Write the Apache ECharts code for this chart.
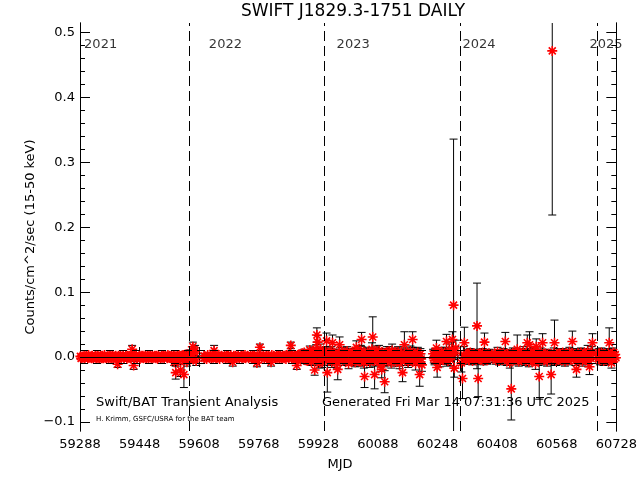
<!DOCTYPE html>
<html>
<head>
<meta charset="utf-8">
<script src="https://cdn.jsdelivr.net/npm/echarts@6/dist/echarts.min.js"></script>
<style>html,body{margin:0;padding:0;background:#fff}#c{width:640px;height:480px}</style>
</head>
<body>
<div id="c"></div>
<script>
// [MJD, rate (counts/cm^2/sec), error]
const points2021 = [
[59289,.001,.003],[59291,-.002,.003],[59294,.001,.003],[59296,-.001,.003],[59299,.002,.003],
[59301,-.003,.003],[59304,.000,.003],[59306,.002,.003],[59309,-.002,.003],[59311,.003,.003],
[59314,-.001,.003],[59316,.001,.003],[59319,-.002,.003],[59321,.002,.003],[59324,-.002,.003],
[59326,.000,.003],[59329,.003,.003],[59331,-.003,.003],[59334,.002,.003],[59336,-.001,.003],
[59339,.001,.003],[59341,-.003,.003],[59344,.002,.003],[59346,-.002,.003],[59349,.002,.003],
[59351,-.002,.003],[59354,.003,.003],[59356,.000,.003],[59359,-.002,.003],[59361,.001,.003],
[59364,-.003,.003],[59366,.002,.003],[59369,-.001,.003],[59371,.002,.003],[59374,-.002,.003],
[59376,.003,.003],[59379,-.002,.003],[59381,.001,.003],[59384,.002,.003],[59386,-.003,.003],
[59389,-.011,.005],[59391,.002,.003],[59394,-.001,.003],[59396,.002,.003],[59399,-.002,.003],
[59401,.001,.003],[59404,.003,.003],[59406,-.002,.003],[59409,.000,.003],[59411,.002,.003],
[59414,-.003,.003],[59416,.002,.003],[59419,-.001,.003],[59421,.001,.003],[59424,-.002,.003],
[59426,.003,.003],[59428,.012,.006],[59430,.002,.003],[59432,-.013,.006],[59434,-.002,.003],
[59437,.001,.003],[59439,.002,.003],[59442,-.002,.003],[59444,.000,.003],[59447,.003,.003],
[59449,-.003,.003],[59452,.002,.003],[59454,-.001,.003],[59457,.002,.003],[59459,-.002,.003],
[59462,.001,.003],[59464,.003,.003],[59467,-.002,.003],[59469,.002,.003],[59472,-.003,.003],
[59474,.000,.003],[59477,.002,.003],[59479,-.001,.003],[59482,.003,.003],[59484,-.002,.003],
[59487,.001,.003],[59489,.002,.003],[59492,-.002,.003],[59494,.002,.003],[59497,-.003,.003],
[59499,.003,.003],[59502,.000,.003],[59504,-.002,.003],[59507,.002,.003],[59509,-.001,.003],
[59512,.002,.003],[59514,-.002,.003],[59517,.003,.003],[59519,.001,.003],[59522,-.002,.003],
[59524,.003,.003],[59527,-.001,.003],[59529,.002,.003],[59532,-.002,.003],[59534,.002,.003],
[59537,-.003,.004],[59539,.002,.004],[59541,-.008,.005],[59543,.001,.004],[59545,-.024,.010],
[59547,-.003,.004],[59550,.003,.004],[59552,-.006,.005],[59554,.003,.004],[59556,-.002,.004],
[59558,-.020,.010],[59560,.002,.004],[59563,-.005,.005],[59565,.003,.004],[59567,-.027,.020],
[59569,-.002,.005],[59571,.004,.005],[59573,-.001,.004],[59575,-.008,.006],[59577,.003,.005],
[59580,.001,.005],[59582,-.004,.005],[59584,.006,.005],[59586,-.002,.005],[59588,.004,.005],
[59591,.016,.007],[59593,-.003,.006],[59595,.008,.006],[59597,.010,.008],[59600,-.006,.007]
];
const points2022 = [
[59621,.002,.003],[59623,-.002,.003],[59626,.001,.003],[59628,-.003,.003],[59631,.003,.003],
[59633,.000,.003],[59636,-.002,.003],[59638,.002,.003],[59641,-.002,.003],[59643,.002,.003],
[59646,-.001,.003],[59648,.010,.008],[59651,.001,.003],[59653,-.002,.003],[59656,.002,.003],
[59658,-.001,.003],[59661,.003,.003],[59663,-.003,.003],[59666,.001,.003],[59668,.002,.003],
[59671,-.002,.003],[59673,.000,.003],[59676,.003,.003],[59678,-.002,.003],[59681,.002,.003],
[59683,-.001,.003],[59686,.002,.003],[59688,-.003,.003],[59691,.001,.003],[59693,.003,.003],
[59696,-.002,.003],[59698,-.008,.006],[59701,.002,.003],[59703,-.001,.003],[59706,.002,.003],
[59708,-.002,.003],[59711,.001,.003],[59713,.003,.003],[59716,-.002,.003],[59718,.000,.003],
[59721,.002,.003],[59723,-.003,.003],[59726,.002,.003],[59728,-.001,.003],[59731,.003,.003],
[59733,-.002,.003],[59736,.001,.003],[59738,.002,.003],[59741,-.002,.003],[59743,.000,.003],
[59746,.003,.003],[59748,-.003,.003],[59751,.002,.003],[59753,-.001,.003],[59756,.002,.003],
[59758,-.002,.003],[59761,.001,.003],[59763,-.009,.006],[59766,.002,.003],[59768,-.001,.003],
[59771,.015,.005],[59773,.002,.003],[59776,-.002,.003],[59778,.001,.003],[59781,.003,.003],
[59783,-.002,.003],[59786,.000,.003],[59788,.002,.003],[59791,-.003,.003],[59793,.002,.003],
[59796,-.001,.003],[59798,.001,.003],[59801,-.008,.006],[59803,.003,.003],[59806,-.002,.003],
[59808,.002,.003],[59811,-.002,.003],[59813,.000,.003],[59816,.003,.003],[59818,-.001,.003],
[59821,.002,.003],[59823,-.003,.003],[59826,.003,.003],[59828,-.002,.003],[59831,.001,.003],
[59833,.002,.003],[59836,-.002,.003],[59838,.002,.003],[59841,-.003,.003],[59843,.003,.003],
[59846,.000,.003],[59848,-.002,.003],[59850,.005,.004],[59852,.001,.003],[59854,.018,.005],
[59856,-.002,.003],[59859,.002,.003],[59861,-.001,.003],[59864,.003,.004],[59866,-.003,.004],
[59868,.002,.004],[59870,-.013,.006],[59873,.003,.004],[59875,.004,.004],[59878,-.002,.004],
[59880,-.004,.004],[59883,.002,.004],[59885,.006,.004],[59888,-.001,.004],[59890,.007,.005],
[59893,-.005,.005],[59895,.003,.005],[59898,-.006,.005],[59900,.004,.005],[59903,-.003,.005],
[59905,.011,.006],[59907,-.002,.005],[59909,-.007,.006],[59911,.006,.006],[59913,.009,.006],
[59916,-.004,.006],[59918,-.020,.008],[59920,.003,.006],[59922,.012,.007],[59924,.034,.011],
[59926,.023,.010],[59928,-.006,.007],[59930,.004,.007],[59932,-.009,.008],[59934,.012,.008],
[59936,.002,.007],[59938,-.008,.008],[59940,.007,.008],[59942,.003,.008],[59944,-.005,.008]
];
const points2023 = [
[59946,.003,.008],[59948,.008,.008],[59950,.025,.012],[59952,-.024,.030],[59954,.002,.007],
[59956,-.006,.007],[59958,.007,.007],[59960,-.003,.007],[59962,.009,.007],[59964,-.008,.008],
[59966,.022,.012],[59968,.001,.007],[59970,-.005,.007],[59972,.006,.006],[59974,-.002,.007],
[59976,.004,.006],[59978,-.009,.008],[59980,-.019,.016],[59982,.005,.007],[59985,.019,.012],
[59987,-.004,.006],[59989,.002,.006],[59991,.008,.007],[59993,-.006,.007],[59995,.003,.006],
[59997,-.001,.006],[59999,.007,.007],[60001,-.004,.007],[60003,.005,.006],[60005,.009,.007],
[60007,-.002,.007],[60009,-.010,.008],[60011,.004,.006],[60013,.001,.006],[60015,-.006,.007],
[60017,.006,.007],[60019,-.003,.006],[60021,.007,.006],[60023,-.005,.007],[60025,.002,.007],
[60027,-.008,.007],[60030,.015,.010],[60032,.003,.007],[60034,-.002,.007],[60036,.006,.007],
[60038,-.007,.007],[60040,.004,.007],[60042,.010,.008],[60044,.027,.011],[60046,-.004,.007],
[60048,.003,.007],[60050,-.009,.008],[60052,-.030,.017],[60054,.006,.007],[60056,.001,.007],
[60058,-.005,.008],[60060,.008,.007],[60062,-.002,.008],[60064,.005,.007],[60066,-.008,.008],
[60068,.003,.007],[60070,-.004,.008],[60072,.012,.010],[60074,.031,.031],[60076,.002,.008],
[60078,-.006,.008],[60079,-.027,.022],[60081,.006,.008],[60083,-.002,.007],[60085,.009,.008],
[60087,-.006,.007],[60089,.004,.007],[60091,.010,.008],[60093,-.003,.008],[60095,-.012,.010],
[60098,-.019,.013],[60100,.005,.008],[60102,.001,.008],[60104,-.007,.008],[60106,-.038,.017],
[60108,.006,.007],[60110,-.002,.007],[60112,.008,.008],[60114,-.005,.008],[60116,.003,.007],
[60118,.009,.007],[60120,-.004,.008],[60122,.002,.008],[60124,-.009,.008],[60126,.010,.010],
[60128,.001,.007],[60130,-.007,.007],[60132,.005,.008],[60134,-.001,.008],[60136,.007,.007],
[60138,-.004,.007],[60140,.003,.008],[60142,.008,.008],[60144,-.006,.008],[60146,-.010,.008],
[60148,.004,.007],[60150,-.002,.007],[60152,.006,.008],[60154,-.024,.014],[60156,.002,.008],
[60159,.019,.020],[60161,-.005,.008],[60163,.004,.008],[60165,-.003,.007],[60167,.007,.007],
[60169,-.008,.008],[60171,.002,.008],[60173,-.004,.007],[60175,.009,.008],[60177,.001,.007],
[60179,-.006,.007],[60181,.027,.012],[60183,.003,.008],[60185,-.002,.008],[60187,.006,.008],
[60189,-.010,.010],[60191,.004,.007],[60193,-.001,.007],[60195,.007,.008],[60197,-.005,.008],
[60200,-.027,.018],[60202,.005,.008],[60204,-.003,.008],[60206,-.012,.010],
[60236,.005,.007],[60238,-.002,.007],[60240,-.005,.007],[60242,.006,.007],[60245,.014,.012],
[60247,-.016,.015],[60249,.002,.007],[60251,.005,.007],[60253,-.004,.007],[60255,-.007,.008],
[60257,.003,.007],[60259,.008,.007],[60261,-.001,.007],[60263,-.004,.007],[60265,.004,.008],
[60267,.007,.008],[60269,-.003,.008],[60272,.024,.011],[60274,.001,.008],[60276,-.006,.008],
[60278,.005,.008],[60280,.010,.010],[60282,-.004,.009],[60284,.003,.009],[60286,.012,.011],
[60288,.027,.012],[60291,.080,.256],[60293,-.017,.014],[60295,.006,.010],[60297,.014,.012]
];
const points2024 = [
[60312,-.009,.014],[60315,-.033,.031],[60318,.004,.012],[60320,.022,.024],[60323,-.004,.007],
[60326,.004,.006],[60328,-.002,.006],[60330,.006,.006],[60332,-.005,.006],[60334,.002,.006],
[60336,.007,.006],[60338,-.003,.006],[60340,.004,.006],[60342,-.006,.006],[60344,.001,.006],
[60346,.006,.006],[60348,-.002,.006],[60350,.003,.006],[60352,-.005,.006],[60354,.048,.066],
[60357,-.033,.028],[60359,.005,.006],[60361,-.001,.006],[60363,.006,.006],[60365,-.004,.006],
[60367,.002,.006],[60369,.007,.006],[60371,-.006,.006],[60374,.023,.014],[60376,.001,.006],
[60378,-.003,.006],[60380,.005,.006],[60382,-.005,.006],[60384,.003,.006],[60386,.006,.006],
[60388,-.002,.006],[60390,.002,.006],
[60401,.005,.006],[60403,-.002,.006],[60405,-.005,.006],[60407,.003,.006],[60409,.008,.007],
[60411,-.003,.006],[60413,-.006,.006],[60415,.002,.006],[60417,.005,.006],[60419,-.001,.006],
[60421,-.004,.007],[60423,.004,.006],[60425,.007,.006],[60428,-.002,.007],[60430,.024,.014],
[60432,.001,.007],[60434,-.006,.007],[60436,.005,.006],[60438,.002,.006],[60440,-.003,.007],
[60442,-.009,.008],[60444,.004,.007],[60446,-.049,.048],[60448,.003,.007],[60450,.007,.007],
[60452,-.004,.006],[60454,-.001,.006],[60456,.006,.007],[60458,.002,.007],[60460,-.005,.007],
[60462,.012,.022],[60464,.001,.007],[60466,-.007,.007],[60468,.004,.006],[60470,-.002,.006],
[60472,.006,.007],[60474,-.004,.007],[60476,.002,.007],[60478,.009,.007],[60480,-.003,.006],
[60482,.001,.006],[60484,-.006,.007],[60486,.005,.007],[60489,.022,.012],[60491,-.002,.007],
[60493,-.008,.007],[60495,.019,.020],[60497,.004,.007],[60499,-.001,.007],[60501,.006,.007],
[60503,-.005,.007],[60505,.002,.007],[60507,.008,.007],[60509,-.003,.008],[60511,-.010,.009],
[60513,.016,.012],[60515,.001,.007],[60517,.004,.007],[60519,-.006,.007],[60521,-.030,.035],
[60523,.003,.007],[60525,.007,.007],[60527,-.002,.007],[60530,.022,.014],[60532,.001,.007],
[60534,-.005,.007],[60536,.004,.006],[60538,.006,.006],[60540,-.003,.007],[60542,-.007,.007],
[60544,.002,.006],[60546,.005,.006],[60548,-.001,.007],[60550,-.004,.007],[60553,-.027,.030],
[60556,.472,.253],[60558,.003,.007],[60560,.007,.007],[60562,.022,.035],[60564,-.002,.007],
[60566,-.006,.007],[60568,.004,.006],[60570,.001,.006],[60572,-.004,.007],[60574,.006,.007],
[60576,-.002,.007],[60578,.005,.006],[60580,-.005,.007],[60582,.002,.007],[60584,.007,.006],
[60586,-.003,.006],[60588,.004,.007],[60590,-.007,.007],[60592,.001,.006],[60594,.005,.006],
[60596,-.002,.007],[60598,-.005,.007],[60600,.003,.007],[60602,.008,.007],[60604,-.001,.006],
[60606,-.004,.006],[60608,.006,.007],[60610,.024,.016],[60612,.002,.007],[60614,-.003,.007],
[60616,.005,.007],[60618,-.006,.007],[60621,-.019,.012],[60623,.003,.007],[60625,.006,.007],
[60627,-.002,.006],[60629,-.005,.006],[60631,.004,.007],[60633,.007,.007],[60635,-.003,.007],
[60637,-.007,.007],[60639,.002,.006],[60641,.005,.006],[60643,-.001,.007],[60645,.006,.007],
[60647,-.004,.008],[60649,.002,.008],[60651,.009,.009],[60653,-.006,.009],[60656,-.015,.012],
[60658,.004,.008],[60660,-.002,.008],[60662,.007,.009],[60664,.022,.014]
];
const points2025 = [
[60678,.004,.007],[60680,-.003,.007],[60682,.006,.007],[60684,-.005,.007],[60686,.002,.006],
[60688,.007,.007],[60690,-.002,.006],[60692,.004,.007],[60694,-.006,.007],[60696,.001,.006],
[60698,.005,.007],[60700,-.004,.007],[60702,.003,.006],[60704,-.001,.007],[60706,.006,.007],
[60709,.022,.023],[60711,.002,.007],[60713,-.004,.007],[60715,-.009,.008],[60717,.005,.007],
[60719,-.002,.007],[60721,.007,.007],[60723,-.003,.007],[60725,.004,.007],[60727,-.001,.008]
];

const yearStartMJD = [59580, 59945, 60310, 60676];
const yearLabels = ['2021', '2022', '2023', '2024', '2025'];
const yearLabelMJD = [59299, 59634, 59977, 60315, 60656];
const yearLabelY = 0.482;
const refLevels = [-0.015, 0.015];
const xTickMin = 59288, xTickMax = 60728, xTickStep = 160;
const yTickValues = [-0.1, 0.0, 0.1, 0.2, 0.3, 0.4, 0.5];
const yTickLabels = ['\u22120.1', '0.0', '0.1', '0.2', '0.3', '0.4', '0.5'];
const yMinorValues = [-0.1,-0.08,-0.06,-0.04,-0.02,0,0.02,0.04,0.06,0.08,0.1,0.12,0.14,0.16,0.18,0.2,
  0.22,0.24,0.26,0.28,0.3,0.32,0.34,0.36,0.38,0.4,0.42,0.44,0.46,0.48,0.5];
const yMin = -0.114, yMax = 0.515;

const allPoints = [].concat(points2021, points2022, points2023, points2024, points2025);
const FONT = 'DejaVu Sans';
const chart = echarts.init(document.getElementById('c'), null, {renderer: 'canvas'});

function xAxisDef(pos, showLabel) {
  return {
    type: 'value', position: pos, min: xTickMin, max: xTickMax, interval: xTickStep,
    axisLine: {show: true, lineStyle: {color: '#000', width: 1}},
    axisTick: {show: true, inside: true, length: 10, lineStyle: {color: '#000'}},
    minorTick: {show: true, splitNumber: 3, length: 5, lineStyle: {color: '#000'}},
    axisLabel: {show: showLabel, color: '#000', fontSize: 13, fontFamily: FONT, margin: 7,
      formatter: v => String(v)},
    splitLine: {show: false}, minorSplitLine: {show: false}
  };
}
function yAxisDef(pos, minor, showLabel) {
  return {
    type: 'value', position: pos, min: yMin, max: yMax,
    axisLine: {show: true, lineStyle: {color: '#000', width: 1}},
    axisTick: {show: true, inside: true, length: minor ? 5 : 10,
      customValues: minor ? yMinorValues : yTickValues, lineStyle: {color: '#000'}},
    axisLabel: {show: showLabel, color: '#000', fontSize: 13, fontFamily: FONT, margin: 5,
      customValues: yTickValues,
      formatter: v => {
        for (let i = 0; i < yTickValues.length; i++) if (Math.abs(yTickValues[i] - v) < 1e-9) return yTickLabels[i];
        return '';
      }},
    splitLine: {show: false}
  };
}

const option = {
  animation: false,
  backgroundColor: '#fff',
  grid: {left: 80, right: 23, top: 23, bottom: 49, containLabel: false},
  xAxis: [xAxisDef('bottom', true), xAxisDef('top', false)],
  yAxis: [yAxisDef('left', false, true), yAxisDef('left', true, false),
          yAxisDef('right', false, false), yAxisDef('right', true, false)],
  graphic: [
    {type: 'text', x: 353, y: 12, style: {text: 'SWIFT J1829.3-1751 DAILY', fill: '#000',
      font: '17px "' + FONT + '"', textAlign: 'center', textVerticalAlign: 'middle'}},
    {type: 'text', x: 31, y: 237, rotation: Math.PI / 2, style: {text: 'Counts/cm^2/sec (15-50 keV)',
      fill: '#000', font: '13px "' + FONT + '"', textAlign: 'center', textVerticalAlign: 'middle'}},
    {type: 'text', x: 340, y: 465, style: {text: 'MJD', fill: '#000', font: '13px "' + FONT + '"',
      textAlign: 'center', textVerticalAlign: 'middle'}},
    {type: 'text', x: 96, y: 403, style: {text: 'Swift/BAT Transient Analysis', fill: '#000',
      font: '13px "' + FONT + '"', textVerticalAlign: 'middle'}},
    {type: 'text', x: 322, y: 403, style: {text: 'Generated Fri Mar 14 07:31:36 UTC 2025', fill: '#000',
      font: '13px "' + FONT + '"', textVerticalAlign: 'middle'}},
    {type: 'text', x: 96, y: 419, style: {text: 'H. Krimm, GSFC/USRA for the BAT team', fill: '#000',
      font: '7px "' + FONT + '"', textVerticalAlign: 'middle'}}
  ],
  series: [
    {
      type: 'line', xAxisIndex: 0, yAxisIndex: 0, z: 1, data: [], silent: true,
      markLine: {
        silent: true, symbol: 'none', label: {show: false}, animation: false,
        data: [
          ...refLevels.map(v => ({yAxis: v, lineStyle: {color: '#000', type: [8, 5], width: 1}})),
          ...yearStartMJD.map(v => ({xAxis: v, lineStyle: {color: '#000', type: [10, 5], width: 1}}))
        ]
      }
    },
    {
      type: 'custom', xAxisIndex: 0, yAxisIndex: 0, clip: true, z: 2,
      data: allPoints,
      renderItem: function (params, api) {
        const x = api.value(0), y = api.value(1), e = api.value(2);
        const t = api.coord([x, y + e]), b = api.coord([x, y - e]);
        const cw = 4, st = {stroke: '#000', lineWidth: 1};
        return {type: 'group', children: [
          {type: 'line', shape: {x1: t[0], y1: t[1], x2: b[0], y2: b[1]}, style: st},
          {type: 'line', shape: {x1: t[0] - cw, y1: t[1], x2: t[0] + cw, y2: t[1]}, style: st},
          {type: 'line', shape: {x1: b[0] - cw, y1: b[1], x2: b[0] + cw, y2: b[1]}, style: st}
        ]};
      }
    },
    {
      type: 'scatter', xAxisIndex: 0, yAxisIndex: 0, z: 3,
      data: allPoints.map(p => [p[0], p[1]]),
      symbol: 'path://M5,0L5,10M0,5L10,5M1.5,1.5L8.5,8.5M1.5,8.5L8.5,1.5',
      symbolSize: 10,
      itemStyle: {color: 'rgba(0,0,0,0)', borderColor: '#ff0000', borderWidth: 1.6, opacity: 1},
      emphasis: {disabled: true}
    },
    {
      type: 'line', xAxisIndex: 0, yAxisIndex: 0, z: 5, data: [], silent: true,
      markLine: {
        silent: true, symbol: 'none', label: {show: false}, animation: false,
        data: [{yAxis: 0, lineStyle: {color: '#000', type: 'solid', width: 1}}]
      }
    },
    {
      type: 'scatter', xAxisIndex: 0, yAxisIndex: 0, z: 6, silent: true,
      data: yearLabelMJD.map((m, i) => ({value: [m, yearLabelY], name: yearLabels[i]})),
      symbolSize: 0,
      label: {show: true, position: 'right', distance: 0, formatter: p => p.name,
        color: '#000', fontSize: 13, fontFamily: FONT}
    }
  ]
};
chart.setOption(option);
</script>
</body>
</html>
